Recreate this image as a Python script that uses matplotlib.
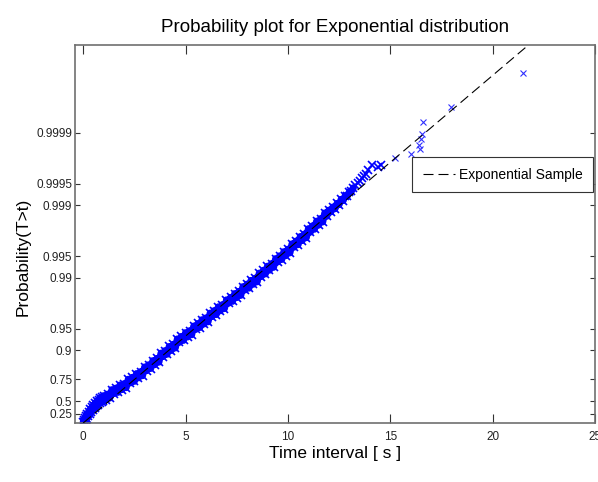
import numpy as np
import matplotlib
matplotlib.use('Agg')
import matplotlib.pyplot as plt

# seřazený vzorek: časový interval [s] a exponenciální kvantil -ln(1-p)
time_s = [0.00, 0.03, 0.06, 0.08, 0.12, 0.14, 0.18, 0.20, 0.25, 0.27,
          0.32, 0.34, 0.40, 0.42, 0.48, 0.50, 0.56, 0.58, 0.65, 0.66,
          0.73, 0.75, 0.82, 0.83, 0.90, 0.92, 0.98,
          1.0, 1.1, 1.2, 1.3, 1.4, 1.5, 1.6, 1.7, 1.8, 1.9,
          2.0, 2.1, 2.2, 2.3, 2.4, 2.5, 2.6, 2.7, 2.8, 2.9,
          3.0, 3.1, 3.2, 3.3, 3.4, 3.5, 3.6, 3.7, 3.8, 3.9,
          4.0, 4.1, 4.2, 4.3, 4.4, 4.5, 4.6, 4.7, 4.8, 4.9,
          5.0, 5.1, 5.2, 5.3, 5.4, 5.5, 5.6, 5.7, 5.8, 5.9,
          6.0, 6.1, 6.2, 6.3, 6.4, 6.5, 6.6, 6.7, 6.8, 6.9,
          7.0, 7.1, 7.2, 7.3, 7.4, 7.5, 7.6, 7.7, 7.8, 7.9,
          8.0, 8.1, 8.2, 8.3, 8.4, 8.5, 8.6, 8.7, 8.8, 8.9,
          9.0, 9.1, 9.2, 9.3, 9.4, 9.5, 9.6, 9.7, 9.8, 9.9,
          10.0, 10.1, 10.2, 10.3, 10.4, 10.5, 10.6, 10.7, 10.8, 10.9,
          11.0, 11.1, 11.2, 11.3, 11.4, 11.5, 11.6, 11.7, 11.8, 11.9,
          12.0, 12.1, 12.2, 12.3, 12.4, 12.5, 12.6, 12.7, 12.8, 12.9,
          13.0, 13.1, 13.2, 13.3, 13.4, 13.5, 13.6, 13.7, 13.8, 13.92,
          14.09, 14.4, 14.55, 15.23, 16.02, 16.46, 16.42, 16.49, 16.54, 16.62,
          17.96, 21.46]
quantile = [0.03, 0.10, 0.02, 0.16, 0.08, 0.22, 0.14, 0.29, 0.21, 0.36,
            0.27, 0.43, 0.34, 0.50, 0.41, 0.57, 0.48, 0.63, 0.53, 0.69,
            0.58, 0.74, 0.62, 0.79, 0.66, 0.83, 0.70,
            0.87, 0.73, 0.92, 0.79, 1.06, 0.93, 1.11, 0.97, 1.21, 1.06,
            1.25, 1.12, 1.39, 1.27, 1.45, 1.32, 1.57, 1.43, 1.63, 1.50,
            1.78, 1.66, 1.85, 1.73, 1.98, 1.85, 2.05, 1.93, 2.22, 2.11,
            2.30, 2.18, 2.43, 2.30, 2.50, 2.38, 2.67, 2.56, 2.75, 2.62,
            2.87, 2.73, 2.93, 2.80, 3.08, 2.97, 3.16, 3.03, 3.28, 3.14,
            3.34, 3.21, 3.49, 3.38, 3.57, 3.44, 3.69, 3.56, 3.76, 3.63,
            3.91, 3.80, 3.99, 3.86, 4.11, 3.98, 4.18, 4.05, 4.33, 4.22,
            4.41, 4.28, 4.53, 4.40, 4.60, 4.48, 4.76, 4.65, 4.85, 4.73,
            4.98, 4.85, 5.06, 4.94, 5.22, 5.11, 5.31, 5.19, 5.44, 5.31,
            5.52, 5.40, 5.69, 5.58, 5.78, 5.66, 5.92, 5.79, 6.00, 5.88,
            6.17, 6.06, 6.26, 6.15, 6.41, 6.28, 6.49, 6.38, 6.67, 6.56,
            6.76, 6.70, 6.86, 6.80, 6.97, 6.93, 7.10, 7.06, 7.22, 7.20,
            7.34, 7.36, 7.47, 7.55, 7.62, 7.68, 7.78, 7.85, 7.92, 8.02,
            8.18, 8.14, 8.20, 8.41, 8.55, 8.71, 8.84, 9.03, 9.19, 9.56,
            10.04, 11.10]

# proložená přímka (exponenciální rozdělení)
fit_time = [0.0, 21.75]
fit_quantile = [0.0, 12.0]

prob_ticks = [0.25, 0.5, 0.75, 0.9, 0.95, 0.99, 0.995, 0.999, 0.9995, 0.9999]
prob_labels = ['0.25', '0.5', '0.75', '0.9', '0.95', '0.99', '0.995',
               '0.999', '0.9995', '0.9999']
x_ticks = [0, 5, 10, 15, 20, 25]

plt.rcParams['font.family'] = ['Liberation Sans', 'DejaVu Sans']

fig = plt.figure(figsize=(5.98, 4.82), dpi=100)
ax = fig.add_axes([75 / 598, 59 / 482, 520 / 598, 378 / 482])

n_dense = 150  # hustý pás značek (tisíce bodů splývají), dále jednotlivé body
ax.plot(time_s[:n_dense], quantile[:n_dense], '-', color='blue', lw=5,
        solid_capstyle='round', zorder=2)
ax.plot(time_s[:n_dense + 10], quantile[:n_dense + 10], 'x', color='blue',
        markersize=5.5, markeredgewidth=1.2, zorder=2)
ax.plot(time_s[n_dense + 10:], quantile[n_dense + 10:], 'x', color='#3030ff',
        markersize=5, markeredgewidth=0.8, zorder=2)
fit, = ax.plot(fit_time, fit_quantile, color='black', lw=0.8, zorder=3,
               label='Exponential Sample')
fit.set_dashes((9, 4.5))

ax.set_xlim(-0.4, 25)
ax.set_ylim(0, 12)
ax.set_xticks(x_ticks)
ax.set_xticklabels([str(t) for t in x_ticks])
ax.set_yticks(-np.log1p(-np.array(prob_ticks)))
ax.set_yticklabels(prob_labels)

for s in ax.spines.values():
    s.set_color('#707070')
    s.set_linewidth(1.2)
ax.tick_params(axis='x', direction='in', length=6.5, width=0.8, color='#333333',
               top=True, labelsize=8.5, pad=6, labelcolor='#222222')
ax.tick_params(axis='y', direction='in', length=3.6, width=0.8, color='#333333',
               right=True, labelsize=8.5, pad=2, labelcolor='#222222')

ax.set_title('Probability plot for Exponential distribution', fontsize=13.5, pad=9)
ax.set_xlabel('Time interval [ s ]', fontsize=12.5)
ax.set_ylabel('Probability(T>t)', fontsize=12.5)
ax.xaxis.set_label_coords(0.5, -0.06)
ax.yaxis.set_label_coords(-0.085, 0.44)

leg = ax.legend(loc='upper right', bbox_to_anchor=(0.996, 0.703), borderaxespad=0,
                fancybox=False, framealpha=1, edgecolor='#333333', fontsize=10,
                handlelength=2.3, handletextpad=0.3, borderpad=0.75)
leg.get_frame().set_linewidth(0.8)

fig.savefig('out.png', dpi=100)
